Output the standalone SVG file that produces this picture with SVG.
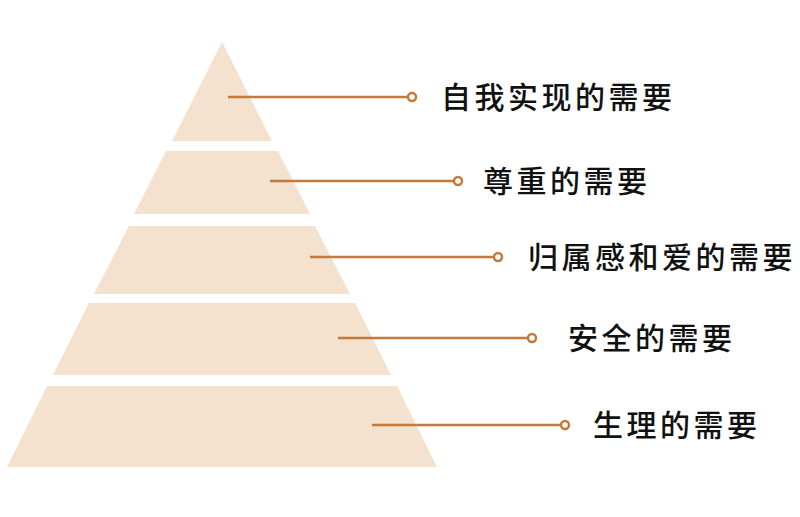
<svg xmlns="http://www.w3.org/2000/svg" width="800" height="517" viewBox="0 0 800 517">
<style>
.layer{fill:#f4e2cf}
.conn{stroke:#c47a3a;stroke-width:2.5;fill:none}
.dot{stroke:#c47a3a;stroke-width:2.5;fill:#fff}
.lbl{font-family:"Noto Sans CJK SC","Noto Sans",sans-serif;font-size:30px;font-weight:500;fill:#111;letter-spacing:3.5px;dominant-baseline:central}
</style>
<rect width="800" height="517" fill="#fff"/>
<g id="layer1"><polygon class="layer" points="222,42 272,141 172,141"/></g>
<g id="layer2"><polygon class="layer" points="166,151 278,151 310,214 134,214"/></g>
<g id="layer3"><polygon class="layer" points="129,226 315,226 350,294 94,294"/></g>
<g id="layer4"><polygon class="layer" points="89,303 355,303 391,375 53,375"/></g>
<g id="layer5"><polygon class="layer" points="47,386 397,386 437,467 7,467"/></g>
<g id="connectors">
<line class="conn" x1="228" y1="97" x2="408" y2="97"/>
<line class="conn" x1="270" y1="181" x2="454" y2="181"/>
<line class="conn" x1="310" y1="257" x2="494" y2="257"/>
<line class="conn" x1="338" y1="338" x2="528" y2="338"/>
<line class="conn" x1="372" y1="425" x2="561" y2="425"/>
<circle class="dot" cx="412" cy="97" r="4"/>
<circle class="dot" cx="458" cy="181" r="4"/>
<circle class="dot" cx="498" cy="257" r="4"/>
<circle class="dot" cx="532" cy="338" r="4"/>
<circle class="dot" cx="565" cy="425" r="4"/>
</g>
<g id="label1"><text class="lbl" x="441" y="95">自我实现的需要</text></g>
<g id="label2"><text class="lbl" x="483" y="179">尊重的需要</text></g>
<g id="label3"><text class="lbl" x="528" y="255">归属感和爱的需要</text></g>
<g id="label4"><text class="lbl" x="568" y="336">安全的需要</text></g>
<g id="label5"><text class="lbl" x="593" y="423">生理的需要</text></g>
</svg>
